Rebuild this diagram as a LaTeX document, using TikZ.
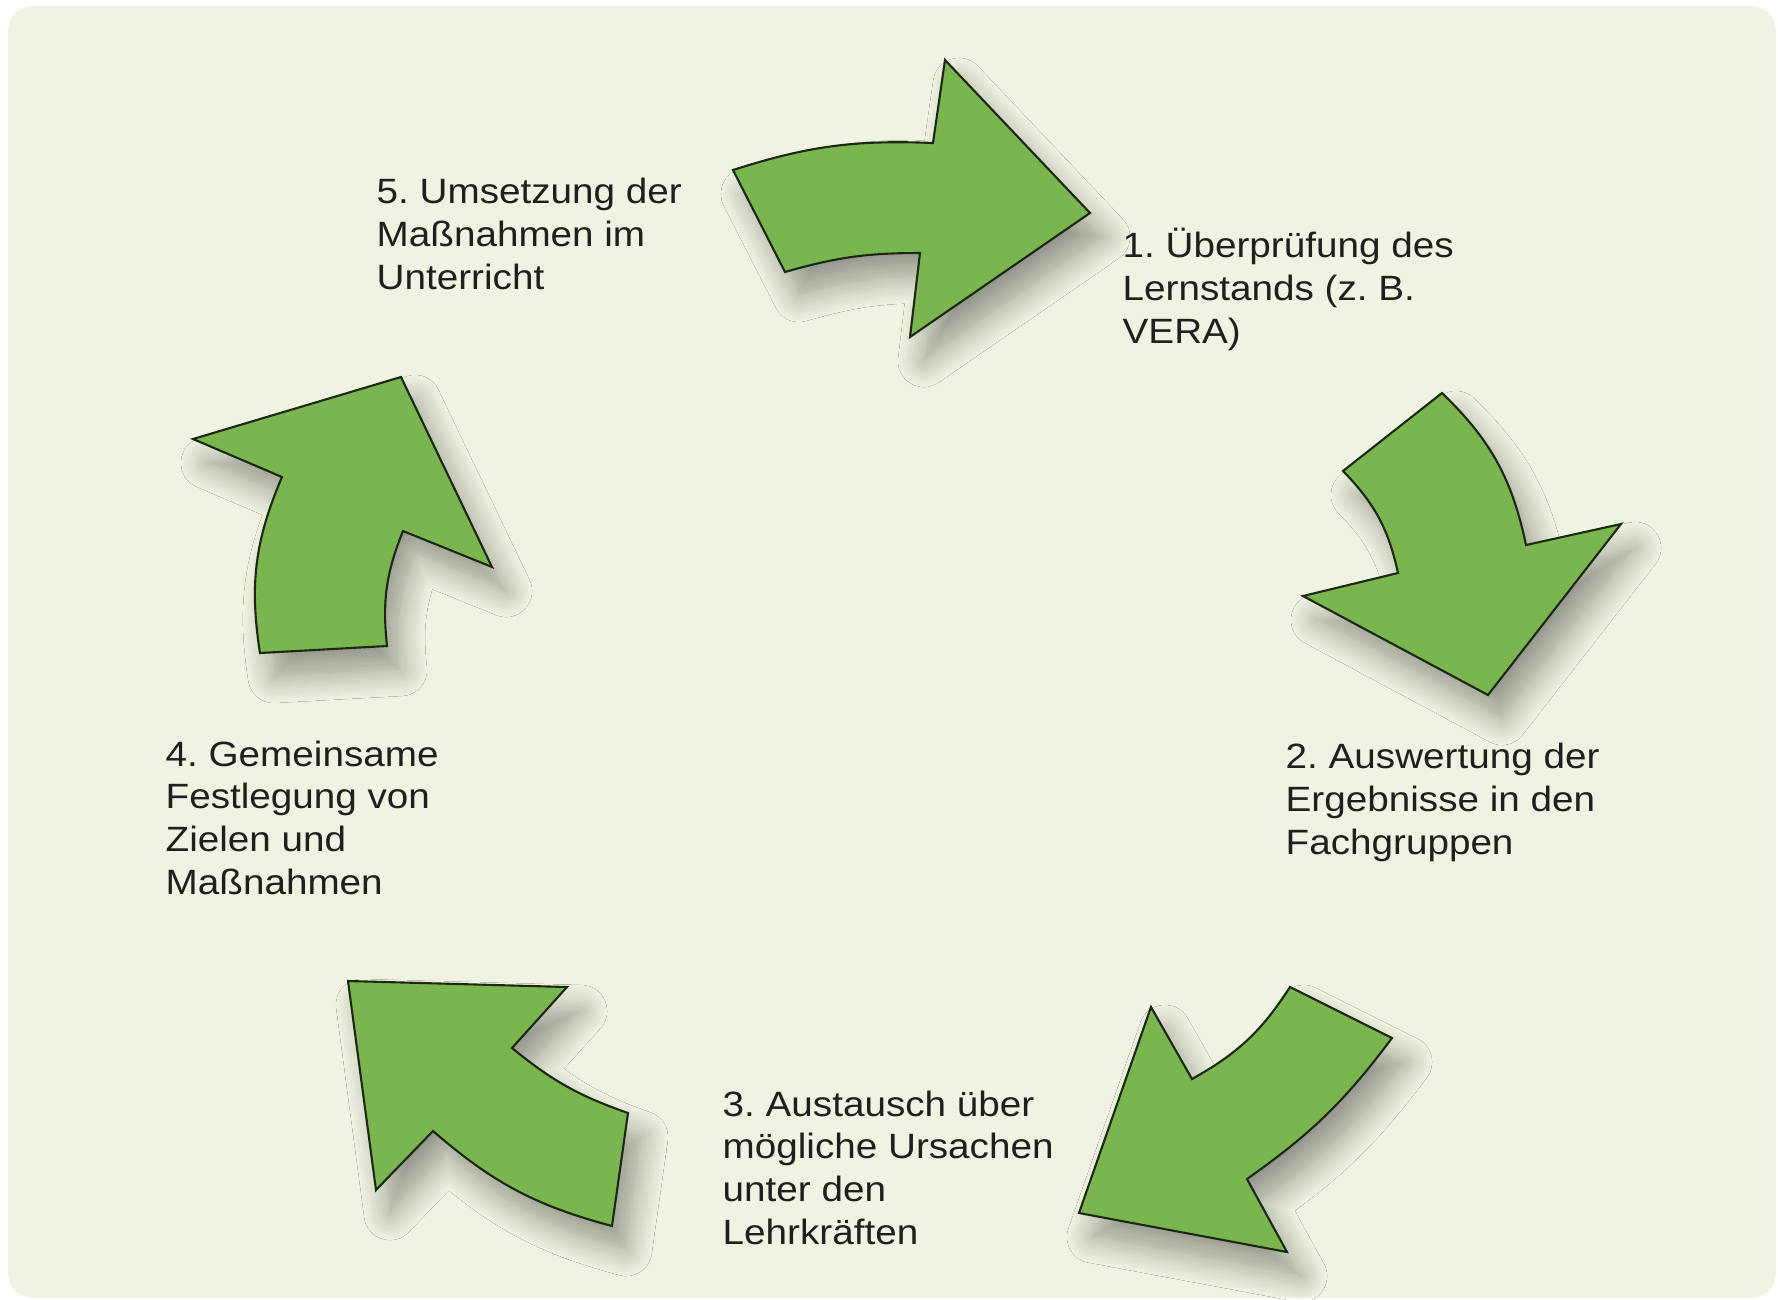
\documentclass[tikz,border=0pt]{standalone}
\usepackage{fontspec}
\setmainfont{Liberation Sans}[FakeStretch=1.1]
\usepackage{tikz}
\usetikzlibrary{shadows.blur}
\frenchspacing

\definecolor{hgrund}{RGB}{241,243,226}
\definecolor{pfeilgruen}{RGB}{122,182,80}
\definecolor{randgruen}{RGB}{28,40,18}

\begin{document}
\begin{tikzpicture}[x=0.1mm,y=-0.1mm,
		pfeil/.style={fill=pfeilgruen,draw=randgruen,line width=0.6pt,line join=miter,
			blur shadow={shadow xshift=1.4mm,shadow yshift=-2.4mm,shadow blur radius=2.6mm,shadow blur steps=14,shadow opacity=38}},
		schritt/.style={anchor=base west,align=left,inner sep=0pt,font=\fontsize{10}{12.1}\selectfont,text=black!88}]
		\useasboundingbox (0,0) rectangle (1778,1300);
		\fill[white] (0,0) rectangle (1778,1300);
		\fill[hgrund,rounded corners=2.5mm] (8,6) rectangle (1776,1298);
		
		% Pfeile im Uhrzeigersinn
		\path[pfeil] (733,170) to[bend left=10] (933,143) -- (945,60) -- (1090,213) -- (910,337) -- (920,253) to[bend right=8] (785,272) -- cycle;
		\path[pfeil] (1442,393) to[bend left=17] (1526,545) -- (1621,524) -- (1488,695) -- (1303,596) -- (1398,573) to[bend right=16] (1343,471) -- cycle;
		\path[pfeil] (1392,1038) to[bend left=9] (1247,1179) -- (1287,1252) -- (1079,1213) -- (1151,1007) -- (1192,1079) to[bend right=14] (1290,987) -- cycle;
		\path[pfeil] (612,1226) to[bend left=13] (433,1131) -- (376,1190) -- (348,981) -- (567,987) -- (512,1048) to[bend right=10] (628,1113) -- cycle;
		\path[pfeil] (260,653) to[bend left=16] (282,477) -- (193,439) -- (401,377) -- (492,567) -- (403,531) to[bend right=14] (387,646) -- cycle;
		
		% base = Grundlinie der letzten Zeile
		\node[schritt] (s1) at (1122,343) {1. Überprüfung des\\Lernstands (z. B.\\VERA)};
		\node[schritt] (s2) at (1285,854) {2. Auswertung der\\Ergebnisse in den\\Fachgruppen};
		\node[schritt] (s3) at (722,1244) {3. Austausch über\\mögliche Ursachen\\unter den\\Lehrkräften};
		\node[schritt] (s4) at (165,894) {4. Gemeinsame\\Festlegung von\\Zielen und\\Maßnahmen};
		\node[schritt] (s5) at (376,289) {5. Umsetzung der\\Maßnahmen im\\Unterricht};
	\end{tikzpicture}
\end{document}
